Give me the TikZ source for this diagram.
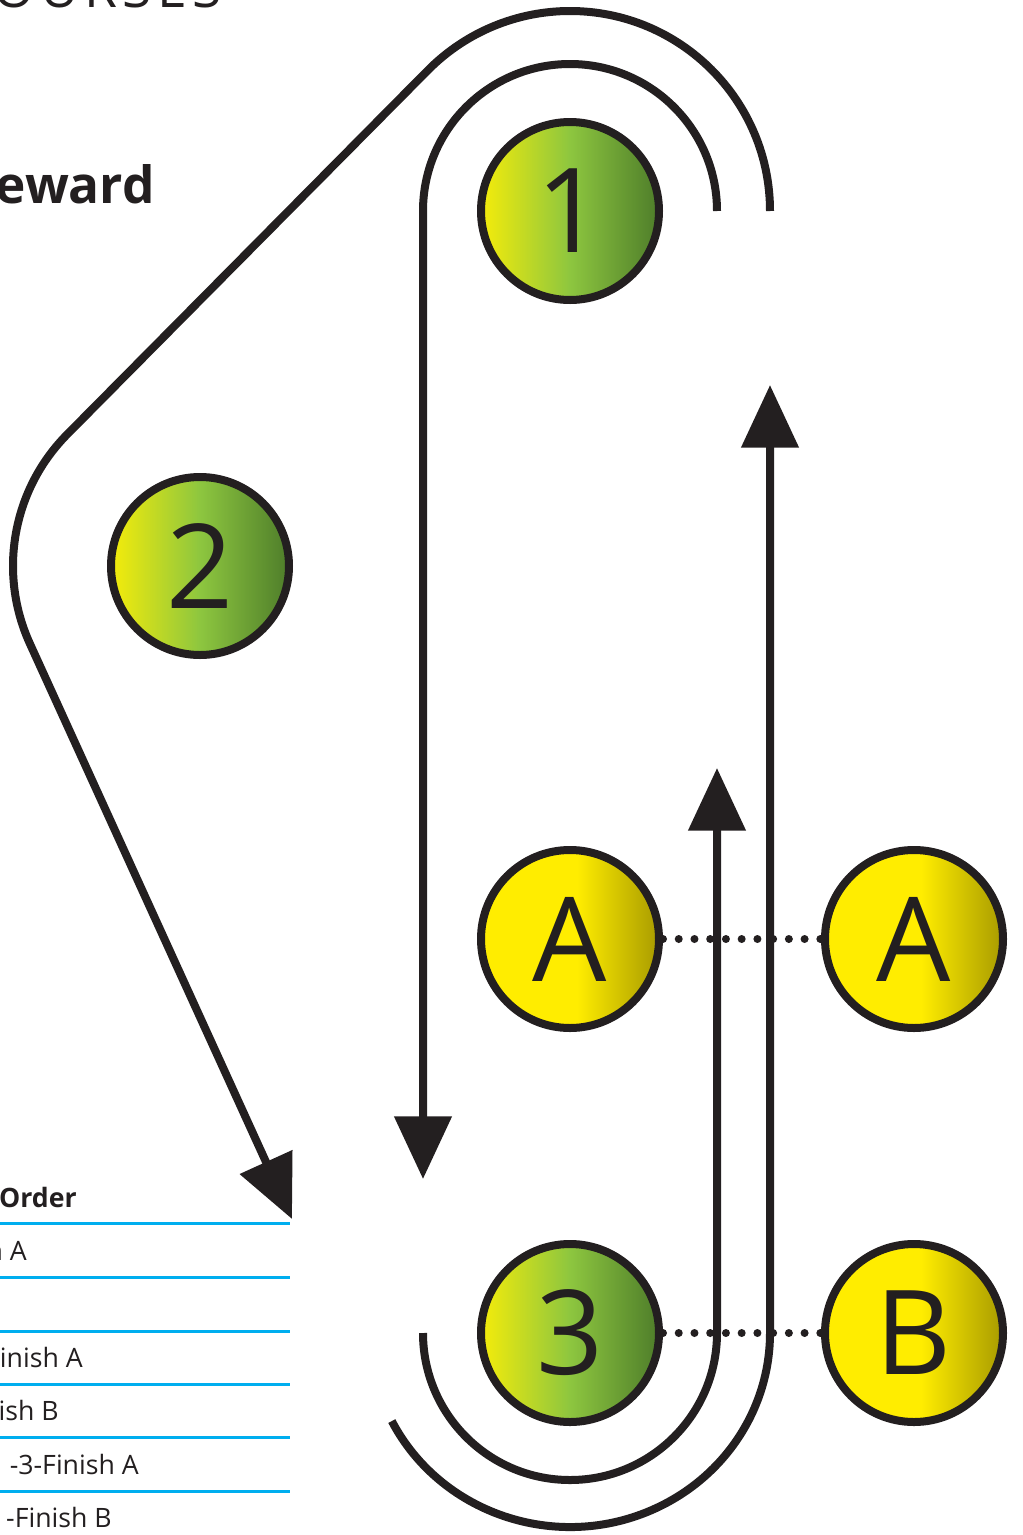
\documentclass[tikz,border=0pt]{standalone}
\usepackage{fontspec}
\setmainfont{Open Sans}
\usepackage{tikz}
\usetikzlibrary{arrows.meta, calc}
\definecolor{inkcolor}{RGB}{35,31,32}
\definecolor{tableblue}{RGB}{0,174,239}
\definecolor{stopyellow}{RGB}{245,236,10}
\definecolor{stopgreen}{RGB}{141,198,63}
\definecolor{stopdark}{RGB}{78,125,42}
\definecolor{finishyellow}{RGB}{255,237,0}
\definecolor{finisholive}{RGB}{168,155,0}
\pgfdeclarehorizontalshading{finishshade}{100bp}{color(0bp)=(finishyellow); color(25bp)=(finishyellow); color(52bp)=(finishyellow); color(75bp)=(finisholive); color(100bp)=(finisholive)}

\tikzset{
  greenstation/.style={circle, draw=inkcolor, line width=6pt, minimum size=133.5pt, inner sep=0pt,
    left color=stopyellow, right color=stopdark, middle color=stopgreen,
    text=inkcolor, font=\fontsize{88}{88}\selectfont},
  finishstation/.style={circle, draw=inkcolor, line width=6pt, minimum size=133.5pt, inner sep=0pt,
    shading=finishshade, text=inkcolor, font=\fontsize{88}{88}\selectfont},
  route/.style={draw=inkcolor, line width=6pt},
  routearrow/.style={route, -{Triangle[length=47pt, width=42pt]}},
  dotline/.style={draw=inkcolor, line width=6pt, line cap=round, dash pattern=on 0pt off 11.8pt},
  tablerule/.style={draw=tableblue, line width=2.25pt},
  tablerow/.style={anchor=base east, inner sep=0pt, text=inkcolor, font=\fontsize{20}{20}\selectfont},
}

\begin{document}
\begin{tikzpicture}[x=0.75pt, y=-0.75pt]
    \useasboundingbox (0,0) rectangle (1022,1535);
    \clip (0,0) rectangle (1022,1535);

    % Headings
    \node[anchor=base east, inner sep=0pt, text=inkcolor, font=\fontsize{40}{40}\selectfont\addfontfeature{LetterSpace=10}] (title) at (222,7) {OURSES};
    \node[anchor=base east, inner sep=0pt, text=inkcolor, font=\fontsize{38.5}{38.5}\selectfont\bfseries] (reward) at (155,203) {eward};

    % Stations
    \node[greenstation] (c1) at (570,211) {1};
    \node[greenstation] (c2) at (200,566) {2};
    \node[greenstation] (c3) at (570,1333) {3};

    % Finish markers
    \node[finishstation] (a1) at (570,939) {A};
    \node[finishstation] (a2) at (914,939) {A};
    \node[finishstation] (b) at (914,1333) {B};

    % Finish lines
    \draw[dotline] (a1) -- (a2);
    \draw[dotline] (c3) -- (b);

    % Arrow tips
    \coordinate (tip2) at (292,1219);
    \coordinate (tip3) at (423,1179);
    \coordinate (tipA) at (717,768);
    \coordinate (tip1) at (770,385);

    % Outer route round 1 and 2
    \draw[routearrow] ($(c1)+(0:200)$) arc[start angle=0, end angle=-135, radius=200]
        -- ($(c2)+(-135:187)$) arc[start angle=225, end angle=155.5, radius=187] -- (tip2);

    % Inner route round 1
    \draw[routearrow] ($(c1)+(0:147)$) arc[start angle=0, end angle=-180, radius=147] -- (tip3);

    % Routes round 3
    \draw[routearrow] ($(c3)+(180:147)$) arc[start angle=180, end angle=0, radius=147] -- (tipA);
    \draw[routearrow] ($(c3)+(153:200 and 194)$) arc[start angle=153, end angle=0, x radius=200, y radius=194] -- (tip1);

    % Table
    \node[tablerow, font=\fontsize{20}{20}\selectfont\bfseries] (order) at (77,1207) {Order};
    \foreach \y in {1223,1277,1331,1384,1437,1491}
        \draw[tablerule] (0,\y) -- (290,\y);
    \node[tablerow] (row1) at (27,1260) {n A};
    \node[tablerow] (row3) at (83,1367) {inish A};
    \node[tablerow] (row4) at (59,1420) {ish B};
    \node[tablerow] (row5) at (139,1474) {-3-Finish A};
    \node[tablerow] (row6) at (112,1527) {-Finish B};
\end{tikzpicture}
\end{document}
